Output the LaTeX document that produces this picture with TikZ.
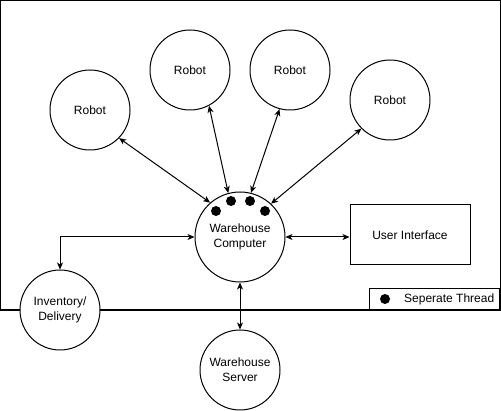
\documentclass[tikz,border=0pt]{standalone}
\usepackage{fontspec}
\setmainfont{Liberation Sans}
\usetikzlibrary{positioning, arrows.meta}
\tikzset{
    circ_node/.style={circle, draw, fill=white, inner sep=0pt, minimum size=80pt, align=center, font=\fontsize{12}{15}\selectfont, line width=1pt},
    box_node/.style={rectangle, draw, fill=white, inner sep=0pt, minimum width=120pt, minimum height=60pt, font=\fontsize{12}{15}\selectfont, line width=1pt},
    thread_dot/.style={circle, fill=black, inner sep=0pt, minimum size=10pt},
    link_arrow/.style={{Stealth[length=7pt,width=6pt,inset=2pt]}-{Stealth[length=7pt,width=6pt,inset=2pt]}, line width=1pt, black}
}

\begin{document}
\begin{tikzpicture}[x=1pt, y=-1pt]
        \useasboundingbox (0,0) rectangle (501,411);
        % outer frame
        \draw[line width=1.2pt] (0.6,0.6) rectangle (500.4,310);
        % warehouse computer and its threads
        \node[circ_node, minimum size=90pt] (wc) at (240,237) {Warehouse\\Computer};
        \foreach \i/\pos in {1/{(216,211)}, 2/{(231,201)}, 3/{(250,201)}, 4/{(265,211)}}
            \node[thread_dot] (t\i) at \pos {};
        % robots
        \foreach \i/\pos/\ra/\wa in {1/{(90,110)}/-44/131, 2/{(190,70)}/-62/105, 3/{(290,70)}/-105/76, 4/{(390,100)}/-135/47} {
            \node[circ_node] (r\i) at \pos {Robot};
            \draw[link_arrow] (r\i.\ra) -- (wc.\wa);
        }
        % user interface
        \node[box_node] (ui) at (410,235) {User Interface};
        \draw[link_arrow] (wc.east) -- (wc.east -| ui.west);
        % inventory
        \node[circ_node] (inv) at (60,310) {Inventory/\\Delivery};
        \draw[link_arrow] (wc.west) -| (inv.north);
        % server
        \node[circ_node] (srv) at (240,370) {Warehouse\\Server};
        \draw[link_arrow] (wc.south) -- (srv.north);
        % legend
        \node[draw, line width=1pt, minimum width=130pt, minimum height=21pt, inner sep=0pt, anchor=south east] (legend) at (500.4,310) {};
        \node[thread_dot] (ldot) at (385,299) {};
        \node[anchor=west, inner sep=0pt, font=\fontsize{12}{15}\selectfont] (ltext) at (404,299) {Seperate Thread};
    \end{tikzpicture}
\end{document}
